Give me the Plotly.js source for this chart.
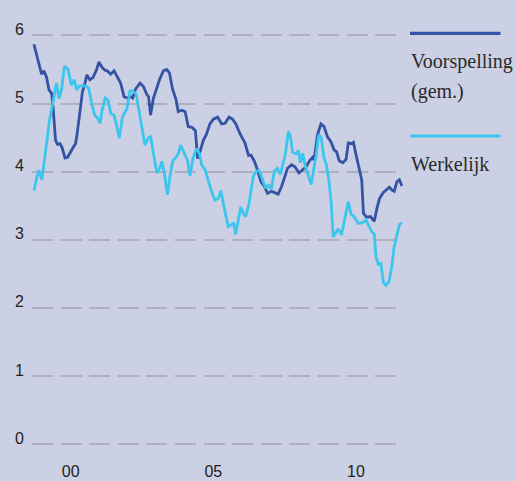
<!DOCTYPE html>
<html>
<head>
<meta charset="utf-8">
<script src="https://cdn.plot.ly/plotly-3.0.1.min.js"></script>
<style>
html,body{margin:0;padding:0;background:#ccd0e4;}
#chart{width:516px;height:481px;}
</style>
</head>
<body>
<div id="chart"></div>
<script>
// Voorspelling (gem.) — decimal year / value
const forecastYears = [1998.71,1998.85,1998.98,1999.06,1999.15,1999.24,1999.33,1999.38,1999.43,1999.47,1999.54,1999.63,1999.70,1999.80,1999.89,1999.96,2000.08,2000.17,2000.22,2000.33,2000.41,2000.50,2000.57,2000.67,2000.78,2000.90,2000.99,2001.10,2001.20,2001.28,2001.40,2001.52,2001.63,2001.75,2001.87,2001.98,2002.10,2002.17,2002.27,2002.43,2002.55,2002.66,2002.73,2002.80,2002.90,2003.01,2003.13,2003.25,2003.36,2003.46,2003.57,2003.69,2003.77,2003.90,2004.01,2004.12,2004.25,2004.37,2004.45,2004.53,2004.65,2004.76,2004.88,2005.00,2005.15,2005.29,2005.41,2005.55,2005.67,2005.79,2005.93,2006.11,2006.23,2006.32,2006.44,2006.55,2006.62,2006.67,2006.78,2006.90,2007.04,2007.20,2007.27,2007.39,2007.49,2007.60,2007.74,2007.86,2008.00,2008.11,2008.25,2008.39,2008.48,2008.53,2008.65,2008.77,2008.88,2009.00,2009.12,2009.23,2009.32,2009.41,2009.54,2009.65,2009.73,2009.84,2009.91,2010.02,2010.12,2010.20,2010.26,2010.37,2010.51,2010.64,2010.74,2010.82,2010.95,2011.09,2011.17,2011.28,2011.34,2011.43,2011.52,2011.61];
const forecastValues = [5.87,5.64,5.43,5.48,5.39,5.20,5.15,4.95,4.61,4.46,4.40,4.41,4.35,4.20,4.21,4.27,4.35,4.41,4.54,4.90,5.17,5.30,5.42,5.35,5.38,5.49,5.61,5.53,5.49,5.48,5.43,5.48,5.39,5.30,5.10,5.08,5.10,5.08,5.21,5.30,5.25,5.14,5.10,4.83,5.08,5.22,5.37,5.48,5.50,5.45,5.21,5.06,4.88,4.90,4.88,4.66,4.65,4.60,4.19,4.29,4.46,4.55,4.70,4.77,4.80,4.70,4.71,4.80,4.77,4.70,4.56,4.42,4.24,4.24,4.15,4.02,3.90,3.85,3.79,3.68,3.71,3.69,3.67,3.78,3.92,4.05,4.10,4.07,3.98,4.02,4.07,4.17,4.21,4.17,4.54,4.70,4.66,4.51,4.44,4.32,4.29,4.16,4.13,4.18,4.42,4.41,4.43,4.21,4.01,3.88,3.39,3.33,3.34,3.27,3.47,3.60,3.69,3.74,3.77,3.72,3.71,3.85,3.88,3.79];

// Werkelijk — decimal year / value
const actualYears = [1998.71,1998.87,1998.99,1999.13,1999.26,1999.38,1999.50,1999.59,1999.68,1999.78,1999.91,2000.02,2000.12,2000.21,2000.31,2000.43,2000.54,2000.64,2000.73,2000.84,2000.94,2001.03,2001.10,2001.21,2001.31,2001.41,2001.52,2001.61,2001.70,2001.82,2001.97,2002.08,2002.19,2002.29,2002.40,2002.50,2002.60,2002.73,2002.80,2002.88,2003.02,2003.12,2003.20,2003.29,2003.39,2003.48,2003.58,2003.69,2003.78,2003.85,2003.97,2004.09,2004.18,2004.29,2004.41,2004.51,2004.59,2004.71,2004.83,2004.95,2005.06,2005.18,2005.26,2005.36,2005.44,2005.52,2005.64,2005.71,2005.78,2005.87,2005.96,2006.06,2006.13,2006.25,2006.33,2006.40,2006.49,2006.60,2006.72,2006.82,2006.93,2007.03,2007.14,2007.25,2007.35,2007.43,2007.53,2007.63,2007.70,2007.78,2007.90,2007.98,2008.05,2008.13,2008.22,2008.33,2008.43,2008.51,2008.60,2008.69,2008.78,2008.87,2008.96,2009.05,2009.13,2009.20,2009.28,2009.38,2009.49,2009.60,2009.73,2009.82,2009.95,2010.08,2010.23,2010.35,2010.44,2010.55,2010.64,2010.70,2010.78,2010.87,2010.96,2011.05,2011.16,2011.25,2011.34,2011.43,2011.52,2011.61];
const actualValues = [3.72,4.02,3.88,4.35,4.76,5.02,5.30,5.07,5.21,5.55,5.50,5.27,5.35,5.20,5.26,5.26,5.26,5.21,5.01,4.83,4.79,4.71,4.90,5.08,5.05,4.85,4.83,4.68,4.49,4.81,4.92,5.19,5.18,5.14,4.90,4.64,4.39,4.50,4.51,4.32,3.98,4.05,4.15,3.95,3.66,3.94,4.16,4.21,4.27,4.39,4.29,4.17,3.94,4.20,4.34,4.27,4.10,4.03,3.86,3.69,3.58,3.61,3.72,3.53,3.34,3.19,3.22,3.25,3.08,3.29,3.48,3.38,3.34,3.53,3.73,3.93,4.00,4.02,3.89,3.77,3.80,3.74,4.01,4.05,3.96,4.12,4.27,4.59,4.52,4.28,4.26,4.31,4.13,4.27,4.08,3.94,3.81,4.02,4.23,4.54,4.51,4.22,4.10,3.87,3.54,3.04,3.09,3.16,3.07,3.32,3.56,3.38,3.33,3.24,3.25,3.29,3.22,3.12,3.08,2.75,2.64,2.65,2.37,2.33,2.39,2.60,2.90,3.05,3.22,3.25];

const yTicks = [0,1,2,3,4,5,6];
const xTickVals = [2000,2005,2010];
const xTickText = ['00','05','10'];
const seriesNames = ['Voorspelling','(gem.)','Werkelijk'];

const BG = '#ccd0e4';
const DARK = '#3453a5';
const LIGHT = '#3cc6ee';

const L = 32, R = 113, T = 15, B = 23;
const W = 516, H = 481;
const pw = W - L - R, ph = H - T - B;
function px(x){ return (x - L) / pw; }
function py(y){ return (T + ph - y) / ph; }

const traces = [
  {x: forecastYears, y: forecastValues, type:'scatter', mode:'lines',
   line:{color:DARK, width:2.8}, hoverinfo:'skip', showlegend:false},
  {x: actualYears, y: actualValues, type:'scatter', mode:'lines',
   line:{color:LIGHT, width:2.8}, hoverinfo:'skip', showlegend:false}
];

const layout = {
  width: W, height: H,
  margin:{l:L, r:R, t:T, b:B, pad:0},
  paper_bgcolor: BG, plot_bgcolor: BG,
  showlegend:false,
  font:{family:'Liberation Sans, Arial, sans-serif', size:16, color:'#222'},
  xaxis:{
    range:[1998.6435, 2011.647], showgrid:false, zeroline:false, showline:false,
    tickvals:xTickVals, ticktext:xTickText, ticks:'',
    ticklabelstandoff:2, fixedrange:true
  },
  yaxis:{
    range:[-0.2056, 6.2996], showgrid:true, gridcolor:'#aeb0bd', gridwidth:2,
    griddash:'21px,7.6px', zeroline:false, showline:false,
    tickvals:yTicks, ticks:'', ticklabelshift:-6, ticklabelstandoff:7,
    fixedrange:true
  },
  shapes:[
    {type:'line', xref:'paper', yref:'paper', x0:px(410), x1:px(500.5), y0:py(33.3), y1:py(33.3),
     line:{color:DARK, width:3.2}},
    {type:'line', xref:'paper', yref:'paper', x0:px(410), x1:px(500.5), y0:py(136), y1:py(136),
     line:{color:LIGHT, width:3.2}}
  ],
  annotations:[
    {text:seriesNames[0], xref:'paper', yref:'paper', x:px(409), y:py(62), xanchor:'left', yanchor:'middle',
     showarrow:false, font:{family:'Liberation Serif, Times New Roman, serif', size:20, color:'#2a2a2a'}},
    {text:seriesNames[1], xref:'paper', yref:'paper', x:px(409), y:py(91), xanchor:'left', yanchor:'middle',
     showarrow:false, font:{family:'Liberation Serif, Times New Roman, serif', size:20, color:'#2a2a2a'}},
    {text:seriesNames[2], xref:'paper', yref:'paper', x:px(409), y:py(165), xanchor:'left', yanchor:'middle',
     showarrow:false, font:{family:'Liberation Serif, Times New Roman, serif', size:20, color:'#2a2a2a'}}
  ]
};

Plotly.newPlot('chart', traces, layout, {displayModeBar:false, staticPlot:true});
</script>
</body>
</html>
